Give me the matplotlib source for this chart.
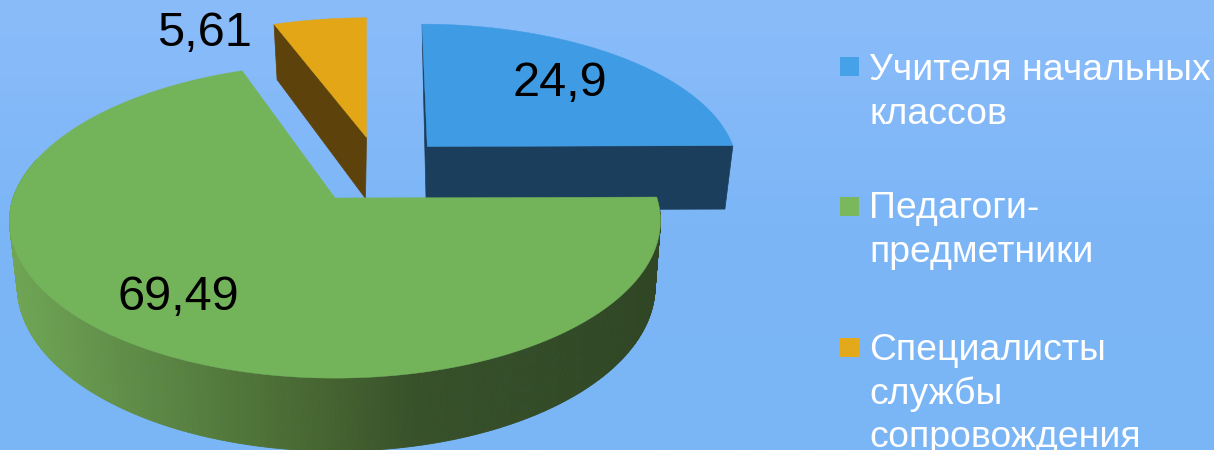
import numpy as np
import matplotlib
matplotlib.use("Agg")
import matplotlib.pyplot as plt
from matplotlib.collections import PolyCollection
from matplotlib.colors import LinearSegmentedColormap

plt.rcParams['font.family'] = ['Liberation Sans', 'DejaVu Sans']

# ---- data ----
categories = ["Учителя начальных\nклассов", "Педагоги-\nпредметники", "Специалисты\nслужбы\nсопровождения"]
values = [24.9, 69.49, 5.61]
value_labels = ["24,9", "69,49", "5,61"]

# ---- styles / layout (pixel space) ----
top_colors = ["#3F9CE4", "#73B35A", "#E2A616"]
key_colors = ["#45A1E8", "#7AB85E", "#E4A81B"]
wall_flat = ["#1A3E5C", None, "#5E420C"]
green_wall = LinearSegmentedColormap.from_list("gw", [(0, "#6FA555"), (0.5, "#44622F"), (0.62, "#38512A"), (1, "#304624")])
centers = [(427.3, 146.5), (335, 198), (366.5, 137.5)]
scale_x = [0.95, 1.0, 0.945]
scale_y = [0.91, 1.0, 0.89]
skew = [-6.0, 6.0, 0.0]
depth = [63.5, 64, 61]
bottom_sx = [0.97, 0.98, 0.98]
RX, RY, K = 322.0, 154.0, 0.145
label_pos = [(559.5, 84), (178.5, 298), (204, 33)]
key_y = [57, 197, 338]
first_baseline = [80, 218, 360]
LINE = 43.5

fig = plt.figure(figsize=(12.14, 4.5), dpi=100)
ax = fig.add_axes([0, 0, 1, 1])
bg = LinearSegmentedColormap.from_list("bg", ["#8BBCFA", "#7CB6F7", "#7AB5F6"])
ax.imshow(np.linspace(0, 1, 256)[:, None], cmap=bg, aspect="auto", extent=(0, 1214, 450, 0), zorder=0)
ax.set_xlim(0, 1214)
ax.set_ylim(450, 0)
ax.axis("off")


def project(theta_deg, i, bottom=False):
    t = np.radians(theta_deg)
    X, Y = np.cos(t), np.sin(t)
    w = 1 + K * Y
    cx, cy = centers[i]
    sx, sy = scale_x[i], scale_y[i]
    if bottom:
        sx, sy = sx * bottom_sx[i], sy * 1.05
        cx += 1.2
        cy += depth[i]
    return cx + (X * RX * sx + skew[i] * np.maximum(Y, 0)) / w, cy - Y * RY * sy / w


def slice_angles():
    out, start = [], 90.0
    for v in values:
        sweep = v / sum(values) * 360.0
        out.append((start, start - sweep))
        start -= sweep
    return out


def wall_radial(theta, i, z):
    cx, cy = centers[i]
    x0, y0 = project(theta, i)
    x1, y1 = project(theta, i, bottom=True)
    ax.fill([cx, x0, x1, cx - 1, cx], [cy, y0, y1, cy + depth[i], cy],
            color=wall_flat[i], lw=0.5, zorder=z)


def top_face(a0, a1, i, z):
    th = np.linspace(a0, a1, 300)
    x, y = project(th, i)
    cx, cy = centers[i]
    ax.fill(np.r_[cx, x], np.r_[cy, y], color=top_colors[i], lw=0.3, zorder=z)


ang = slice_angles()

# orange slice: the cut face on the left is visible
wall_radial(ang[2][0], 2, 2)
top_face(*ang[2], 2, 3)

# blue slice: both cut faces are visible
wall_radial(ang[0][0], 0, 4)
wall_radial(ang[0][1], 0, 4)
top_face(*ang[0], 0, 5)

# green slice: curved outer wall in shaded strips, then the top
th = np.linspace(0, -195, 500)
xt, yt = project(th, 1)
xb, yb = project(th, 1, bottom=True)
quads, cols = [], []
for j in range(len(th) - 1):
    quads.append([(xt[j], yt[j]), (xt[j + 1], yt[j + 1]), (xb[j + 1], yb[j + 1]), (xb[j], yb[j])])
    cols.append(green_wall(np.clip((0.5 * (xt[j] + xt[j + 1]) - 10) / 650, 0, 1)))
ax.add_collection(PolyCollection(quads, facecolors=cols, edgecolors=cols, linewidths=0.6, zorder=6))
top_face(*ang[1], 1, 7)

# value labels
for (x, y), s in zip(label_pos, value_labels):
    ax.text(x, y, s, fontsize=35, color="black", ha="center", va="center", zorder=10)

# legend
for name, c, ky, b in zip(categories, key_colors, key_y, first_baseline):
    ax.fill([840, 859, 859, 840], [ky, ky, ky + 19, ky + 19], color=c, lw=0, zorder=10)
    for n, line in enumerate(name.split("\n")):
        ax.text(869, b + n * LINE, line, fontsize=26.9, color="white", ha="left", va="baseline", zorder=10)

fig.savefig("out.png", dpi=100)
